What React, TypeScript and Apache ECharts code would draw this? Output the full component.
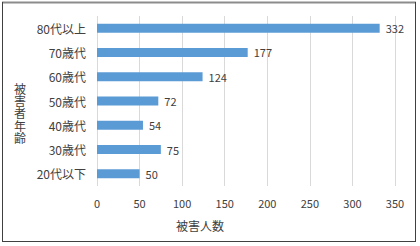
import React, { useEffect, useRef } from "react";
import * as echarts from "echarts";

const categories = ["80代以上", "70歳代", "60歳代", "50歳代", "40歳代", "30歳代", "20代以下"];
const victims = [332, 177, 124, 72, 54, 75, 50];
const xTicks = { min: 0, max: 350, interval: 50 };
const xName = "被害人数";
const yName = "被害者年齢";

const FONT = "'Noto Sans CJK JP', 'Noto Sans', sans-serif";

export default function App() {
  const ref = useRef<HTMLDivElement>(null);
  useEffect(() => {
    document.body.style.margin = "0";
    const chart = echarts.init(ref.current!, undefined, { renderer: "svg" });
    const yNameChars = yName.split("").map((ch, i) => ({
      type: "text",
      x: 20,
      y: 88 + i * 12.4,
      style: {
        text: ch,
        fontSize: 12,
        fill: "#404040",
        fontFamily: FONT,
        align: "center",
        verticalAlign: "middle",
      },
    }));
    chart.setOption({
      animation: false,
      backgroundColor: "#ffffff",
      textStyle: { fontFamily: FONT },
      grid: { left: 97, right: 25, top: 16, bottom: 60, containLabel: false },
      xAxis: {
        type: "value",
        min: xTicks.min,
        max: xTicks.max,
        interval: xTicks.interval,
        axisLine: { show: false },
        axisTick: { show: false },
        axisLabel: { color: "#404040", fontSize: 11, margin: 11, fontFamily: FONT },
        splitLine: { show: true, lineStyle: { color: "#d9d9d9", width: 1 } },
      },
      yAxis: {
        type: "category",
        data: categories,
        inverse: true,
        axisLine: { show: false },
        axisTick: { show: false },
        axisLabel: { color: "#404040", fontSize: 12, margin: 11, fontFamily: FONT },
        splitLine: { show: false },
      },
      series: [
        {
          type: "bar",
          data: victims,
          barWidth: 9,
          itemStyle: { color: "#5B9BD5" },
          label: {
            show: true,
            position: "right",
            distance: 6,
            color: "#404040",
            fontSize: 11,
            fontFamily: FONT,
          },
        },
      ],
      graphic: [
        {
          type: "text",
          left: 176,
          top: 219,
          style: { text: xName, fontSize: 12, fill: "#404040", fontFamily: FONT },
        },
        ...yNameChars,
        { type: "line", shape: { x1: 2, y1: 2.5, x2: 416, y2: 2.5 }, style: { stroke: "#8c8c8c", lineWidth: 2 } },
        { type: "line", shape: { x1: 2.5, y1: 2, x2: 2.5, y2: 242 }, style: { stroke: "#404040", lineWidth: 1 } },
        { type: "line", shape: { x1: 2, y1: 241.5, x2: 416, y2: 241.5 }, style: { stroke: "#404040", lineWidth: 1 } },
        { type: "line", shape: { x1: 415.5, y1: 2, x2: 415.5, y2: 242 }, style: { stroke: "#404040", lineWidth: 1 } },
      ],
    });
    return () => chart.dispose();
  }, []);
  return <div ref={ref} style={{ width: 420, height: 246 }} />;
}
